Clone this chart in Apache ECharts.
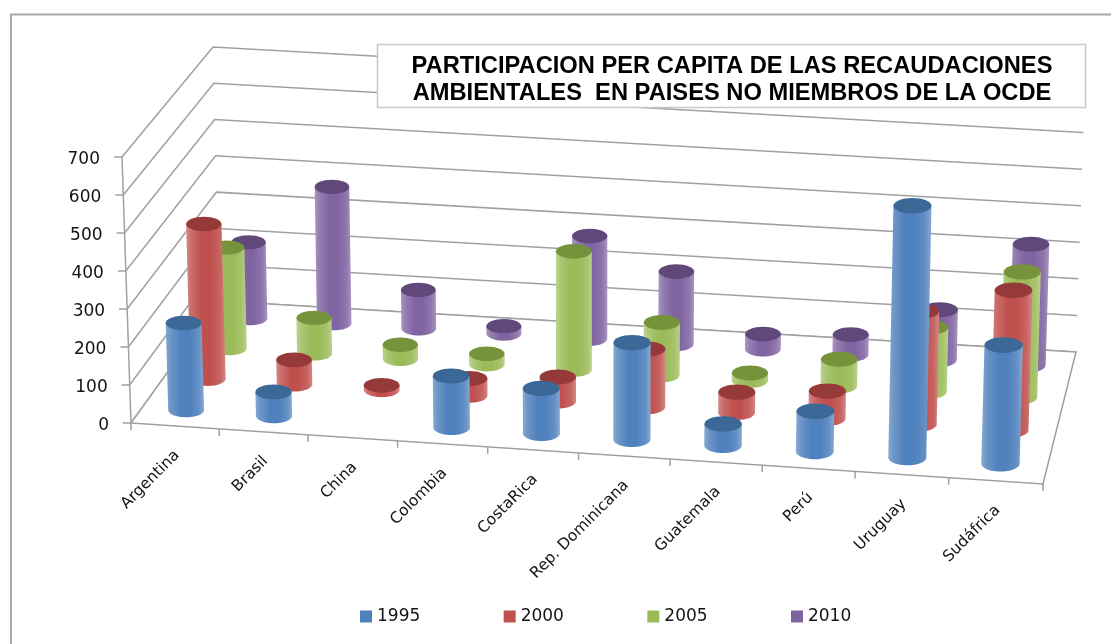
<!DOCTYPE html>
<html>

<head>
    <meta charset="utf-8">
    <title>Recaudaciones ambientales</title>
    <script src="https://cdn.jsdelivr.net/npm/echarts@6/dist/echarts.min.js"></script>
    <style>
        html, body { margin: 0; padding: 0; background: #fff; }
        #chart { width: 1111px; height: 644px; }
    </style>
</head>

<body>
    <div id="chart"></div>
    <script>
        var categories = ['Argentina', 'Brasil', 'China', 'Colombia', 'CostaRica', 'Rep. Dominicana', 'Guatemala', 'Perú', 'Uruguay', 'Sudáfrica'];
        var years = ['1995', '2000', '2005', '2010'];
        var values1995 = [230, 63, 0, 135, 118, 253, 56, 105, 655, 308];
        var values2000 = [414, 65, 12, 45, 64, 153, 54, 72, 298, 368];
        var values2005 = [272, 96, 38, 28, 318, 141, 20, 72, 172, 335];
        var values2010 = [208, 373, 105, 20, 280, 197, 41, 54, 136, 328];
        var allValues = [values1995, values2000, values2005, values2010];
        var yTicks = [0, 100, 200, 300, 400, 500, 600, 700];
        var titleText = 'PARTICIPACION PER CAPITA DE LAS RECAUDACIONES\nAMBIENTALES  EN PAISES NO MIEMBROS DE LA OCDE';

        var colors = ['#4f81bd', '#c0504d', '#9bbb59', '#8064a2'];
        var topColors = ['#3b6896', '#953a38', '#76933c', '#60497a'];
        var lineColor = '#a0a0a0';
        var textColor = '#141414';

        // corners of the floor, and how far the 700 level sits from each one
        var FL = [131, 423], FR = [1043, 484], BR = [1076, 352], BL = [219, 301];
        var upFL = [-9, -266], upFR = [8, -272], upBR = [8.5, -256], upBL = [-6, -254];
        var perspective = 0.72;

        // unit square -> floor quad
        var hom = (function () {
            var dx1 = FR[0] - BR[0], dx2 = BL[0] - BR[0], sx = FL[0] - FR[0] + BR[0] - BL[0];
            var dy1 = FR[1] - BR[1], dy2 = BL[1] - BR[1], sy = FL[1] - FR[1] + BR[1] - BL[1];
            var det = dx1 * dy2 - dx2 * dy1;
            var g = (sx * dy2 - dx2 * sy) / det;
            var h = (dx1 * sy - sx * dy1) / det;
            return {
                a: FR[0] - FL[0] + g * FR[0], b: BL[0] - FL[0] + h * BL[0], c: FL[0],
                d: FR[1] - FL[1] + g * FR[1], e: BL[1] - FL[1] + h * BL[1], f: FL[1],
                g: g, h: h
            };
        })();

        function mix(a, b, c, d, u, v) {
            return (1 - v) * ((1 - u) * a + u * b) + v * ((1 - u) * c + u * d);
        }

        // u along the categories, v into the depth, w up the value axis (all 0..1)
        function project(u, v, w) {
            var q = hom.g * u + hom.h * v + 1;
            var x = (hom.a * u + hom.b * v + hom.c) / q;
            var y = (hom.d * u + hom.e * v + hom.f) / q;
            x = perspective * x + (1 - perspective) * mix(FL[0], FR[0], BL[0], BR[0], u, v);
            y = perspective * y + (1 - perspective) * mix(FL[1], FR[1], BL[1], BR[1], u, v);
            return [
                x + mix(upFL[0], upFR[0], upBL[0], upBR[0], u, v) * w,
                y + mix(upFL[1], upFR[1], upBL[1], upBR[1], u, v) * w
            ];
        }

        function fracs(params, api, cat, val) {
            var p = api.coord([cat, val]);
            var cs = params.coordSys;
            return [(p[0] - cs.x) / cs.width, (cs.y + cs.height - p[1]) / cs.height];
        }

        function cylinder(s) {
            return function (params, api) {
                var val = api.value(1);
                if (!val) {
                    return null;
                }
                var f = fracs(params, api, api.value(0), val);
                var v = (s + 0.5) / 4;
                var base = project(f[0], v, 0);
                var top = project(f[0], v, f[1]);
                var l = project(f[0] - 0.0205, v, 0);
                var r = project(f[0] + 0.0205, v, 0);
                var rx = (r[0] - l[0]) / 2;
                var ry = rx * 0.41;
                var pts = [[top[0] - rx, top[1]], [top[0] + rx, top[1]]];
                for (var i = 0; i <= 24; i++) {
                    var a = Math.PI * i / 24;
                    pts.push([base[0] + rx * Math.cos(a), base[1] + ry * Math.sin(a)]);
                }
                return {
                    type: 'group',
                    children: [{
                        type: 'polygon',
                        shape: { points: pts },
                        style: {
                            fill: {
                                type: 'linear', x: 0, y: 0, x2: 1, y2: 0,
                                colorStops: [
                                    { offset: 0, color: echarts.color.lift(colors[s], 0.34) },
                                    { offset: 0.12, color: echarts.color.lift(colors[s], 0.18) },
                                    { offset: 0.4, color: colors[s] },
                                    { offset: 0.62, color: colors[s] },
                                    { offset: 0.86, color: echarts.color.lift(colors[s], 0.12) },
                                    { offset: 1, color: echarts.color.lift(colors[s], 0.32) }
                                ]
                            }
                        }
                    }, {
                        type: 'ellipse',
                        shape: { cx: top[0], cy: top[1], rx: rx, ry: ry },
                        style: { fill: topColors[s] }
                    }]
                };
            };
        }

        function wallLines(params, api) {
            var w = fracs(params, api, 0, api.value(0))[1];
            var a = project(0, 0, w), b = project(0, 1, w), c = project(1, 1, w);
            return {
                type: 'group',
                children: [{
                    type: 'polyline',
                    shape: { points: [a, b, c] },
                    style: { fill: null, stroke: lineColor, lineWidth: 1.5 }
                }, {
                    type: 'line',
                    shape: { x1: a[0] - 8, y1: a[1], x2: a[0], y2: a[1] },
                    style: { stroke: lineColor, lineWidth: 1.5 }
                }, {
                    type: 'text',
                    style: {
                        x: a[0] - 22, y: a[1] + 3, text: String(api.value(0)), align: 'right', verticalAlign: 'middle',
                        font: '17px "DejaVu Sans"', fill: textColor
                    }
                }]
            };
        }

        function categoryMarks(params, api) {
            var i = api.value(0);
            var u = fracs(params, api, i, 0)[0];
            var tick = project(u - 0.05, 0, 0);
            var floorPt = project(u, 0, 0);
            var children = [{
                type: 'line',
                shape: { x1: tick[0], y1: tick[1], x2: tick[0], y2: tick[1] + 7 },
                style: { stroke: lineColor, lineWidth: 1.5 }
            }, {
                type: 'text',
                x: floorPt[0] + 2,
                y: floorPt[1] + 27,
                rotation: Math.PI / 4,
                style: { x: 0, y: 0, text: categories[i], align: 'right', verticalAlign: 'middle', font: '15.5px "DejaVu Sans"', fill: textColor }
            }];
            if (i === categories.length - 1) {
                var last = project(u + 0.05, 0, 0);
                children.push({
                    type: 'line',
                    shape: { x1: last[0], y1: last[1], x2: last[0], y2: last[1] + 7 },
                    style: { stroke: lineColor, lineWidth: 1.5 }
                });
            }
            return { type: 'group', children: children };
        }

        function floorOutline() {
            return {
                type: 'polygon',
                shape: { points: [project(0, 0, 0), project(1, 0, 0), project(1, 1, 0), project(0, 1, 0)] },
                style: { fill: '#fff', stroke: lineColor, lineWidth: 1.5 }
            };
        }

        function frontEdge() {
            var a = project(0, 0, 0), b = project(0, 0, 1);
            return {
                type: 'line',
                shape: { x1: a[0], y1: a[1], x2: b[0], y2: b[1] },
                style: { stroke: lineColor, lineWidth: 1.5 }
            };
        }

        // back series first so the 1995 row ends up in front
        var series = [
            { type: 'custom', silent: true, renderItem: wallLines, data: yTicks.map(function (t) { return [t]; }), encode: { y: 0 } },
            { type: 'custom', silent: true, renderItem: floorOutline, data: [[0, 0]] },
            { type: 'custom', silent: true, renderItem: frontEdge, data: [[0, 0]] },
            { type: 'custom', silent: true, renderItem: categoryMarks, data: categories.map(function (c, i) { return [i]; }), encode: { x: 0 } }
        ];
        for (var s = years.length - 1; s >= 0; s--) {
            series.push({
                type: 'custom',
                name: years[s],
                silent: true,
                itemStyle: { color: colors[s] },
                renderItem: cylinder(s),
                encode: { x: 0, y: 1 },
                data: allValues[s].map(function (val, i) { return [i, val]; })
            });
        }

        var chart = echarts.init(document.getElementById('chart'));
        chart.setOption({
            animation: false,
            backgroundColor: '#fff',
            grid: { left: 0, right: 0, top: 0, bottom: 0 },
            xAxis: { type: 'category', data: categories, show: false },
            yAxis: { type: 'value', min: 0, max: 700, interval: 100, show: false },
            title: {
                text: titleText,
                left: 732,
                top: 53,
                textAlign: 'center',
                padding: 0,
                z: 8,
                textStyle: { fontFamily: 'Liberation Sans', fontWeight: 'bold', fontSize: 23.7, lineHeight: 27, color: '#000', align: 'center' }
            },
            legend: {
                data: years,
                left: 355,
                top: 603,
                icon: 'rect',
                itemWidth: 12,
                itemHeight: 12,
                itemGap: 83.4,
                textStyle: { fontFamily: 'DejaVu Sans', fontSize: 17, color: textColor },
                selectedMode: false
            },
            graphic: [{
                type: 'polyline',
                silent: true,
                shape: { points: [[11, 644], [11, 14.5], [1111, 14.5]] },
                style: { fill: null, stroke: '#a8a8a8', lineWidth: 2 }
            }, {
                type: 'rect',
                silent: true,
                z: 6,
                shape: { x: 377.5, y: 44.5, width: 708, height: 63 },
                style: { fill: '#fff', stroke: '#c8c8c8', lineWidth: 1.5 }
            }],
            series: series
        });
    </script>
</body>
</html>
